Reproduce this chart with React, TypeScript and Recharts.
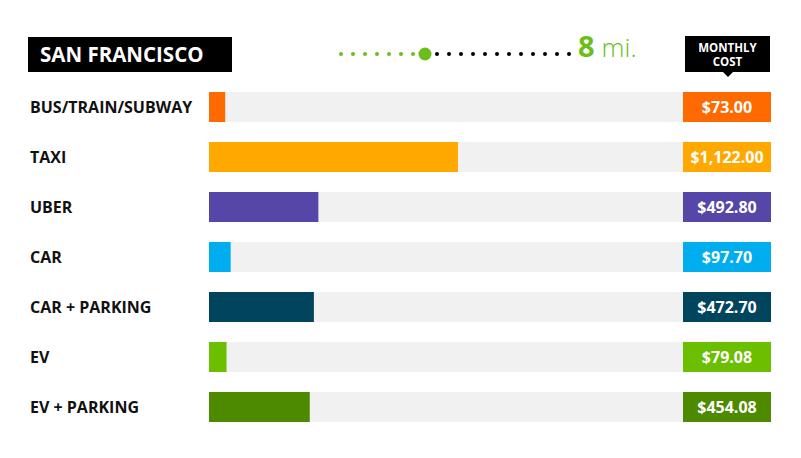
import React from 'react'
import { BarChart, Bar, XAxis, YAxis, Cell } from 'recharts'

// Modes of transport, top to bottom
const MODES = ['BUS/TRAIN/SUBWAY', 'TAXI', 'UBER', 'CAR', 'CAR + PARKING', 'EV', 'EV + PARKING']
// Monthly cost in dollars
const COSTS = [73.0, 1122.0, 492.8, 97.7, 472.7, 79.08, 454.08]
const COLORS = ['#FF6A00', '#FFA800', '#5646A8', '#00AEEF', '#00445E', '#6CBE00', '#4E8A00']

const CITY = 'SAN FRANCISCO'
const MILES = 8
const MILE_STEPS = 20
const SCALE_MAX = 2136

const FONT = '"Open Sans", "Noto Sans", sans-serif'
const GREEN = '#6CBE1A'

const fmt = (v: number) =>
  '$' + v.toLocaleString('en-US', { minimumFractionDigits: 2, maximumFractionDigits: 2 })

const data = MODES.map((name, i) => ({
  name,
  cost: COSTS[i],
  label: fmt(COSTS[i]),
  color: COLORS[i],
}))

const NameTick = (props: any) => {
  const { y, payload } = props
  return (
    <text x={30} y={y} dy={5.5} fontFamily={FONT} fontWeight={700} fontSize={16} fill="#111">
      {payload.value}
    </text>
  )
}

const CostTick = (props: any) => {
  const { x, y, payload, index } = props
  const color = data[index]?.color ?? '#000'
  return (
    <g>
      <rect x={x} y={y - 15} width={88} height={30} fill={color} />
      <text
        x={x + 44}
        y={y}
        dy={5.5}
        textAnchor="middle"
        fontFamily={FONT}
        fontWeight={700}
        fontSize={16}
        fill="#fff"
      >
        {payload.value}
      </text>
    </g>
  )
}

function Header() {
  const dots = []
  for (let i = 1; i <= MILE_STEPS; i++) {
    const cx = 341 + (i - 1) * 12
    if (i === MILES) {
      dots.push(<circle key={i} cx={cx} cy={54} r={6.5} fill={GREEN} />)
    } else {
      dots.push(<circle key={i} cx={cx} cy={54} r={2} fill={i < MILES ? GREEN : '#000'} />)
    }
  }
  return (
    <svg width={801} height={82} style={{ position: 'absolute', left: 0, top: 0 }}>
      <rect x={28} y={37} width={204} height={35} fill="#000" />
      <text x={40} y={62} fontFamily={FONT} fontWeight={700} fontSize={20.5} fill="#fff">
        {CITY}
      </text>
      {dots}
      <text x={578} y={57} fontFamily={FONT} fontSize={26} fill={GREEN}>
        <tspan fontWeight={700} fontSize={29}>{MILES}</tspan>
        <tspan dx={7} fontWeight={300}>mi.</tspan>
      </text>
      <rect x={685} y={36} width={85} height={36} fill="#000" />
      <polygon points="722,71 734,71 728,77" fill="#000" />
      <text textAnchor="middle" fontFamily={FONT} fontWeight={700} fontSize={11.5} fill="#fff">
        <tspan x={727.5} y={51.5}>MONTHLY</tspan>
        <tspan x={727.5} y={65.5}>COST</tspan>
      </text>
    </svg>
  )
}

export default function App() {
  return (
    <div style={{ position: 'absolute', left: 0, top: 0, width: 801, height: 458, background: '#fff' }}>
      <BarChart
        width={801}
        height={458}
        data={data}
        layout="vertical"
        margin={{ top: 82, right: 0, bottom: 26, left: 0 }}
      >
        <XAxis type="number" domain={[0, SCALE_MAX]} hide />
        <YAxis
          yAxisId="names"
          type="category"
          dataKey="name"
          width={209}
          axisLine={false}
          tickLine={false}
          tick={<NameTick />}
          interval={0}
        />
        <YAxis
          yAxisId="costs"
          orientation="right"
          type="category"
          dataKey="label"
          width={118}
          axisLine={false}
          tickLine={false}
          tickSize={0}
          tickMargin={0}
          tick={<CostTick />}
          interval={0}
        />
        <Bar
          yAxisId="names"
          dataKey="cost"
          barSize={30}
          background={{ fill: '#F1F1F1' }}
          isAnimationActive={false}
        >
          {data.map((d) => (
            <Cell key={d.name} fill={d.color} />
          ))}
        </Bar>
      </BarChart>
      <Header />
    </div>
  )
}
